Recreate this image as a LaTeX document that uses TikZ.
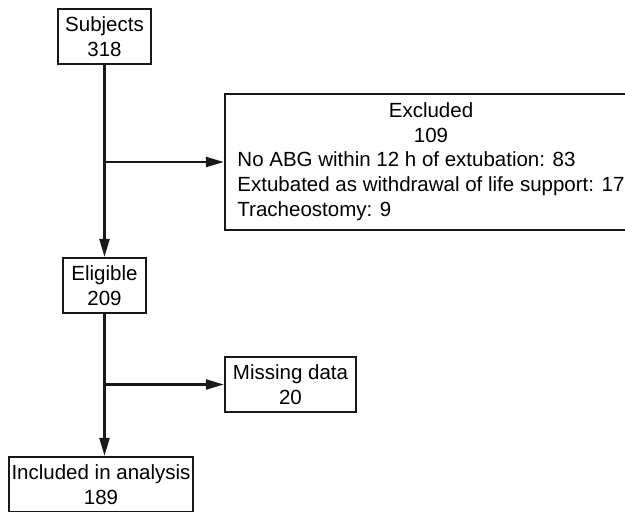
\documentclass[tikz,border=0pt]{standalone}
\usepackage{fontspec}
\setmainfont{Liberation Sans}
\usetikzlibrary{arrows.meta}
\begin{document}
\begin{tikzpicture}[x=1pt, y=-1pt, >={Triangle[length=18pt, width=10pt]},
    box/.style={draw=black!90, line width=2.3pt, inner sep=0pt, align=center, minimum height=55pt, font=\fontsize{20.5}{24.7}\selectfont},
    link/.style={draw=black!90, line width=2.3pt}]
    \useasboundingbox (0,0) rectangle (625,512);
    \node[box, minimum width=93pt] (subj) at (104.5,36.5) {Subjects\\318};
    \node[box, minimum width=412pt, minimum height=136pt] (excl) at (431,162) {\begin{tabular}{@{}l@{}}\multicolumn{1}{@{}c@{}}{Excluded}\\ \multicolumn{1}{@{}c@{}}{109}\\ No ABG within 12 h of extubation: 83\\ Extubated as withdrawal of life support: 17\\ Tracheostomy: 9\end{tabular}};
    \node[box, minimum width=83pt] (elig) at (104.5,285.5) {Eligible\\209};
    \node[box, minimum width=131pt] (miss) at (290.5,384.5) {Missing data\\20};
    \node[box, minimum width=184pt] (incl) at (101,484.5) {Included in analysis\\189};
    \draw[link, ->] (subj.south) -- (elig.north);
    \draw[link, ->] (subj.south |- excl.west) -- (excl.west);
    \draw[link, ->] (elig.south) -- (elig.south |- incl.north);
    \draw[link, ->] (elig.south |- miss.west) -- (miss.west);
\end{tikzpicture}
\end{document}
